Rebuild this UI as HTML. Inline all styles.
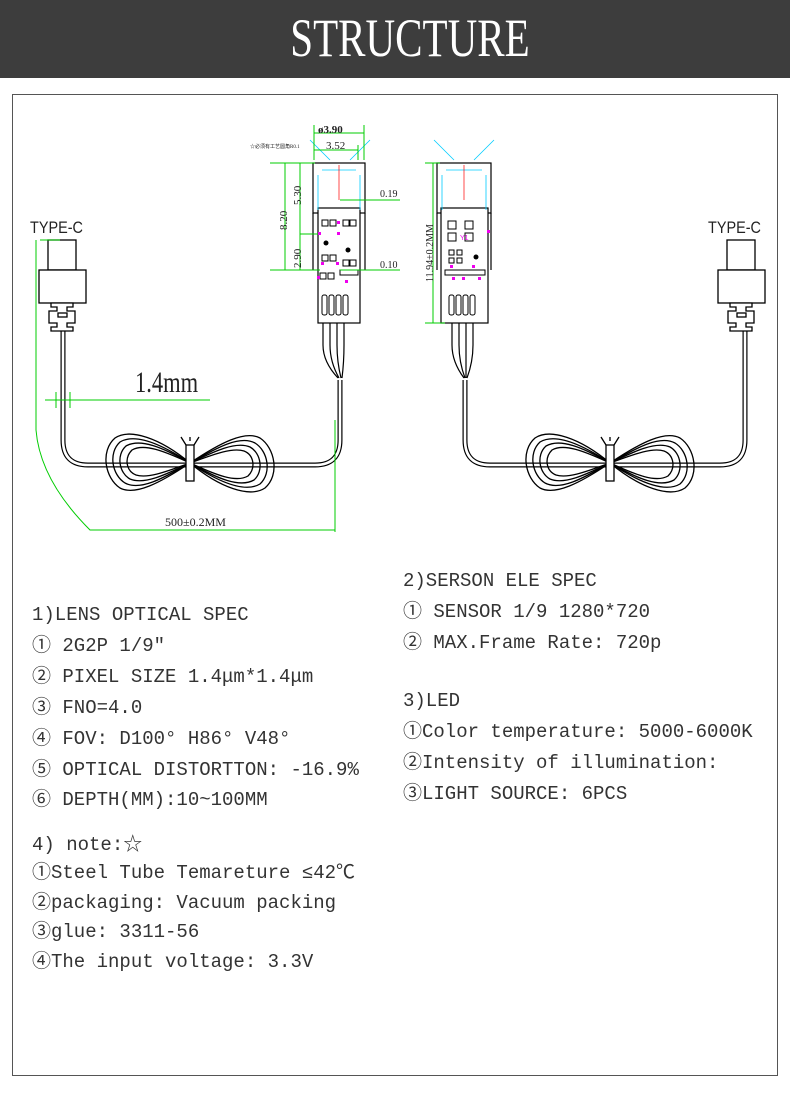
<!DOCTYPE html>
<html><head><meta charset="utf-8"><style>
body{margin:0;width:790px;height:1100px;background:#fff;position:relative;overflow:hidden;font-family:"Liberation Mono","Noto Sans CJK SC",monospace}
.hdr{position:absolute;left:0;top:0;width:790px;height:78px;background:#3d3d3d}
.hdr span{position:absolute;left:15px;width:790px;top:8px;color:#fff;font-family:"Liberation Serif",serif;font-size:54px;text-align:center;line-height:60px;transform:scaleX(0.76);transform-origin:395px 0}
.box{position:absolute;left:12px;top:94px;width:764px;height:980px;border:1px solid #555}
.t{position:absolute;font-size:19px;color:#333;white-space:nowrap;line-height:22px}
svg{position:absolute;left:0;top:0}
</style></head><body>
<div class="hdr"><span>STRUCTURE</span></div>
<div class="box"></div>
<svg width="790" height="1100" viewBox="0 0 790 1100">
<defs>
<g id="loop" fill="none" stroke="#000" stroke-width="1.3">
<path d="M0,0 C-30,-25 -60,-35 -75,-25 C-90,-12 -85,15 -70,25 C-55,33 -30,20 0,0 C30,-20 55,-33 70,-25 C85,-15 90,12 75,25 C60,35 30,25 0,0Z"/>
<path d="M0,0 C-30,-20 -55,-30 -70,-21 C-82,-10 -78,12 -65,20 C-50,28 -28,16 0,0 C28,-16 50,-28 65,-20 C78,-12 82,10 70,21 C55,30 30,20 0,0Z"/>
<path d="M0,0 C-28,-16 -50,-25 -64,-17 C-74,-8 -71,10 -60,16 C-46,22 -25,12 0,0 C25,-12 46,-22 60,-16 C71,-10 74,8 64,17 C50,25 28,16 0,0Z"/>
<path d="M0,0 C-26,-12 -46,-20 -58,-13 C-66,-5 -64,8 -54,12 C-42,16 -22,8 0,0 C22,-8 42,-16 54,-12 C64,-8 66,5 58,13 C46,20 26,12 0,0Z"/>
<rect x="-4" y="-18" width="8" height="36" fill="#fff"/>
<path d="M-4,-18 L-9,-26 M4,-18 L9,-26 M0,-22 L0,-26"/>
</g>
<g id="plug" fill="#fff" stroke="#000" stroke-width="1.3">
<rect x="-15" y="0" width="28" height="30"/>
<rect x="-24" y="30" width="47" height="33"/>
<path d="M-12,63 h22 v4 h-6 v4 h8 v12 h-8 v4 h6 v4 h-22 v-4 h6 v-4 h-8 v-12 h8 v-4 h-6z"/>
<rect x="-5" y="73" width="9" height="4"/>
</g>
</defs>
<path d="M63,327 V440 Q63,465 88,465 H315 Q340,465 340,440 V380" fill="none" stroke="#000" stroke-width="5"/>
<path d="M63,327 V440 Q63,465 88,465 H315 Q340,465 340,440 V380" fill="none" stroke="#fff" stroke-width="2.6"/>
<use href="#plug" x="63" y="240"/>
<use href="#loop" x="190" y="463"/>
<g stroke="#000" stroke-width="1.2" fill="none">
<path d="M323,320 V345 Q323,362 338,378 M330,320 V345 Q330,362 339,378 M337,320 V345 Q337,362 341,378 M344,320 V345 Q344,362 342,378"/>
</g>
<path d="M465,380 V440 Q465,465 490,465 H720 Q745,465 745,440 V327" fill="none" stroke="#000" stroke-width="5"/>
<path d="M465,380 V440 Q465,465 490,465 H720 Q745,465 745,440 V327" fill="none" stroke="#fff" stroke-width="2.6"/>
<use href="#plug" x="742" y="240"/>
<use href="#loop" x="610" y="463"/>
<g stroke="#000" stroke-width="1.2" fill="none">
<path d="M452,320 V345 Q452,362 464,378 M459,320 V345 Q459,362 465,378 M466,320 V345 Q466,362 466,378 M473,320 V345 Q473,362 467,378"/>
</g>
<g stroke="#000" stroke-width="1.2" fill="#fff">
<rect x="313" y="163" width="52" height="50"/>
<rect x="437" y="163" width="54" height="50"/>
<rect x="318" y="208" width="42" height="115"/>
<rect x="441" y="208" width="47" height="115"/>
<path d="M313,213 V270 M365,213 V270 M437,213 V270 M491,213 V270" fill="none"/>
</g>
<g stroke="#0cf" stroke-width="0.8" fill="none">
<path d="M318,175 V210 M360,175 V210 M322,170 h34 M442,175 V210 M486,175 V210 M446,170 h36 M310,140 L330,160 M370,140 L350,160 M434,140 L454,160 M494,140 L474,160"/>
</g>
<path d="M339,165 V200 M464,165 V200" stroke="#f00" stroke-width="0.7"/>
<g fill="#fff" stroke="#000" stroke-width="1">
<rect x="322" y="220" width="6" height="6"/><rect x="330" y="220" width="6" height="6"/><rect x="343" y="220" width="6" height="6"/><rect x="350" y="220" width="6" height="6"/>
<rect x="322" y="255" width="6" height="6"/><rect x="330" y="255" width="6" height="6"/><rect x="343" y="260" width="6" height="6"/><rect x="350" y="260" width="6" height="6"/>
<rect x="320" y="273" width="6" height="6"/><rect x="328" y="273" width="6" height="6"/><rect x="340" y="270" width="18" height="5"/>
<rect x="448" y="221" width="8" height="8"/><rect x="465" y="221" width="8" height="8"/><rect x="448" y="233" width="8" height="8"/><rect x="465" y="233" width="8" height="8"/>
<rect x="449" y="250" width="5" height="5"/><rect x="457" y="250" width="5" height="5"/><rect x="449" y="258" width="5" height="5"/><rect x="457" y="258" width="5" height="5"/>
<rect x="445" y="270" width="40" height="5"/>
<rect x="322" y="295" width="5" height="20" rx="2"/><rect x="329" y="295" width="5" height="20" rx="2"/><rect x="336" y="295" width="5" height="20" rx="2"/><rect x="343" y="295" width="5" height="20" rx="2"/>
<rect x="449" y="295" width="5" height="20" rx="2"/><rect x="456" y="295" width="5" height="20" rx="2"/><rect x="463" y="295" width="5" height="20" rx="2"/><rect x="470" y="295" width="5" height="20" rx="2"/>
</g>
<circle cx="326" cy="243" r="2.5"/><circle cx="348" cy="250" r="2.5"/><circle cx="476" cy="257" r="2.5"/>
<g fill="#e0e">
<rect x="337" y="221" width="3" height="3"/><rect x="318" y="232" width="3" height="3"/><rect x="337" y="232" width="3" height="3"/><rect x="321" y="262" width="3" height="3"/><rect x="336" y="262" width="3" height="3"/><rect x="317" y="276" width="3" height="3"/><rect x="345" y="280" width="3" height="3"/>
<rect x="487" y="230" width="3" height="3"/><rect x="450" y="265" width="3" height="3"/><rect x="472" y="265" width="3" height="3"/><rect x="452" y="277" width="3" height="3"/><rect x="462" y="277" width="3" height="3"/><rect x="478" y="277" width="3" height="3"/>
</g>
<text x="460" y="240" font-size="7" fill="#e0e" font-family="Liberation Sans">Y1</text>
<g stroke="#0c0" stroke-width="1" fill="none">
<path d="M314,133 H364 M314,150 H358 M314,125 V160 M364,125 V160 M358,145 V160"/>
<path d="M270,163 H315 M270,270 H320 M300,234 H318 M285,163 V270 M300,163 V270"/>
<path d="M340,200 H400 M340,270 H400"/>
<path d="M425,163 H440 M425,323 H445 M433,163 V323"/>
<path d="M40,240 H60 M36,240 V430 Q40,480 90,530 H335 M335,420 V532"/>
<path d="M45,400 H210 M56,392 V408 M70,392 V408"/>
</g>
<g font-family="Liberation Serif" fill="#222">
<text x="318" y="133" font-size="11" font-weight="bold">ø3.90</text>
<text x="326" y="149" font-size="11">3.52</text>
<text x="250" y="148" font-size="5">☆必须有工艺圆角R0.1</text>
<text x="380" y="197" font-size="10">0.19</text>
<text x="380" y="268" font-size="10">0.10</text>
<text transform="translate(287,230) rotate(-90)" font-size="11">8.20</text>
<text transform="translate(301,205) rotate(-90)" font-size="11">5.30</text>
<text transform="translate(301,268) rotate(-90)" font-size="11">2.90</text>
<text transform="translate(433,282) rotate(-90)" font-size="10">11.94±0.2MM</text>
<text transform="translate(135,392) scale(0.75,1)" font-size="30">1.4mm</text>
<text x="165" y="526" font-size="12">500±0.2MM</text>
</g>
<g font-family="Liberation Sans" font-size="17" fill="#222">
<text transform="translate(30,233) scale(0.85,1)">TYPE-C</text>
<text transform="translate(708,233) scale(0.85,1)">TYPE-C</text>
</g>
</svg>
<div class="t" style="left:32px;top:604px">1)LENS OPTICAL SPEC</div>
<div class="t" style="left:32px;top:635px">① 2G2P 1/9″</div>
<div class="t" style="left:32px;top:666px">② PIXEL SIZE 1.4μm*1.4μm</div>
<div class="t" style="left:32px;top:697px">③ FNO=4.0</div>
<div class="t" style="left:32px;top:728px">④ FOV: D100° H86° V48°</div>
<div class="t" style="left:32px;top:759px">⑤ OPTICAL DISTORTTON: -16.9%</div>
<div class="t" style="left:32px;top:789px">⑥ DEPTH(MM):10~100MM</div>
<div class="t" style="left:32px;top:834px">4) note:☆</div>
<div class="t" style="left:32px;top:862px">①Steel Tube Temareture ≤42℃</div>
<div class="t" style="left:32px;top:892px">②packaging: Vacuum packing</div>
<div class="t" style="left:32px;top:921px">③glue: 3311-56</div>
<div class="t" style="left:32px;top:951px">④The input voltage: 3.3V</div>
<div class="t" style="left:403px;top:570px">2)SERSON ELE SPEC</div>
<div class="t" style="left:403px;top:601px">① SENSOR 1/9  1280*720</div>
<div class="t" style="left:403px;top:632px">② MAX.Frame Rate: 720p</div>
<div class="t" style="left:403px;top:690px">3)LED</div>
<div class="t" style="left:403px;top:721px">①Color temperature: 5000-6000K</div>
<div class="t" style="left:403px;top:752px">②Intensity of illumination:</div>
<div class="t" style="left:403px;top:783px">③LIGHT SOURCE: 6PCS</div>
</body></html>
